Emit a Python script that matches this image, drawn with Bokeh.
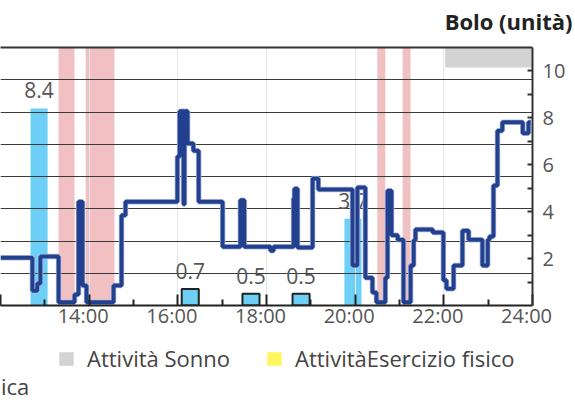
from bokeh.plotting import figure
from bokeh.layouts import column
from bokeh.models import Range1d, LinearAxis, FixedTicker, Grid, Legend, LegendItem
from bokeh.core.properties import value
from bokeh.embed import file_html
from bokeh.resources import INLINE

# ---------------- data ----------------
title_text = "Bolo (unità)"
hour_ticks = [12, 14, 16, 18, 20, 22, 24]
hour_labels = ["12:00", "14:00", "16:00", "18:00", "20:00", "22:00", "24:00"]
hour_minor = [13, 15, 17, 19, 21, 23]
bolus_ticks = [2, 4, 6, 8, 10]
bolus_minor = [1, 3, 5, 7, 9]
grid_levels = [50, 100, 150, 200, 250, 300, 350]

trace_times = [12.00, 12.72, 12.83, 12.90, 13.31, 13.67, 13.76, 13.85, 13.94, 14.55,
               14.73, 14.82, 15.99, 16.04, 16.13, 16.15, 16.22, 16.35, 16.47, 17.01,
               17.41, 17.50, 18.09, 18.16, 18.61, 18.63, 18.70, 19.04, 19.17, 19.94,
               20.05, 20.23, 20.39, 20.48, 20.68, 20.73, 20.82, 20.96, 21.09, 21.25,
               21.32, 21.36, 21.75, 21.99, 22.06, 22.22, 22.42, 22.56, 22.87, 22.99,
               23.03, 23.12, 23.21, 23.32, 23.78, 23.91, 23.96]
trace_values = [74, 23, 34, 76, 5, 17, 161, 31, 5, 31,
                140, 161, 231, 301, 157, 301, 251, 240, 161, 91,
                163, 91, 85, 91, 166, 181, 90, 197, 180, 62,
                183, 43, 20, 5, 43, 178, 109, 102, 5, 62,
                101, 118, 113, 39, 26, 62, 116, 102, 62, 102,
                107, 186, 271, 284, 267, 284, 284]

bolus_times = [12.87, 16.28, 17.65, 18.78, 19.95]
bolus_units = [8.4, 0.7, 0.5, 0.5, 3.7]
bolus_outlined = [False, True, True, True, False]

pink_start = [13.31, 13.92, 20.50, 21.07]
pink_end = [13.67, 14.57, 20.68, 21.25]

sleep_start = [22.03]
sleep_end = [24.0]

legend_row1 = ["Attività Sonno", "AttivitàEsercizio fisico"]
legend_row2 = ["ica"]

FONT = "Open Sans"
LINE_BLUE = "#22408e"
BAR_BLUE = "#6dcff6"
SLEEP_GREY = "#d3d3d3"
EXERCISE_YELLOW = "#fff55c"

# ---------------- title strip ----------------
t = figure(width=573, height=40, x_range=Range1d(0, 1), y_range=Range1d(0, 1),
           x_axis_location=None, y_axis_location=None,
           output_backend="svg", toolbar_location=None,
           min_border=0, outline_line_color=None,
           background_fill_color="white", border_fill_color="white")
t.grid.grid_line_color = None
t.title.text = title_text
t.title.align = "right"
t.title.text_font = FONT
t.title.text_font_size = "22px"
t.title.text_font_style = "bold"
t.title.text_color = "#222222"
t.title.offset = -40
t.title.standoff = 6

# ---------------- main figure ----------------
p = figure(width=573, height=300,
           x_range=Range1d(12, 24), y_range=Range1d(0, 400),
           x_axis_location=None, y_axis_location=None,
           output_backend="svg", toolbar_location=None,
           min_border_left=0, min_border_right=41,
           min_border_top=7, min_border_bottom=35,
           outline_line_color=None,
           background_fill_color="white", border_fill_color="white")
p.extra_y_ranges = {"bolus": Range1d(0, 11)}
p.extra_x_ranges = {"labels": Range1d(12 + 0.135, 24 + 0.135)}

# pink bands
p.quad(left=pink_start, right=pink_end, bottom=0, top=400,
       fill_color="#f1c0c3", line_color=None, level="image")

# sleep activity strip
p.quad(left=sleep_start, right=sleep_end, bottom=10.15, top=11,
       y_range_name="bolus", fill_color=SLEEP_GREY, line_color=None,
       level="image")

# bolus bars
outline_colors = ["#222222" if o else None for o in bolus_outlined]
p.vbar(x=bolus_times, top=bolus_units, bottom=0, width=0.385,
       y_range_name="bolus", fill_color=BAR_BLUE,
       line_color=outline_colors, line_width=2, level="image")
p.text(x=bolus_times, y=bolus_units, text=[f"{u:.1f}" for u in bolus_units],
       y_range_name="bolus", y_offset=-18,
       text_align="center", text_baseline="alphabetic",
       text_font=value(FONT), text_font_size="21px", text_color="#555555")

# grid
grid = Grid(dimension=1, ticker=FixedTicker(ticks=grid_levels),
            grid_line_color="#3a3a3a", grid_line_width=1)
p.add_layout(grid)

# trace
p.step(x=trace_times, y=trace_values, mode="after",
       line_color="#b4c0e4", line_width=5.5)
p.step(x=trace_times, y=trace_values, mode="after",
       line_color=LINE_BLUE, line_width=4)

# axes
top_axis = LinearAxis(ticker=FixedTicker(ticks=[]), axis_line_color="#333333",
                      axis_line_width=2, major_tick_in=0, major_tick_out=0,
                      minor_tick_in=0, minor_tick_out=0,
                      major_label_text_color=None, major_label_standoff=0)
p.add_layout(top_axis, "above")

x_tick_axis = LinearAxis(ticker=FixedTicker(ticks=hour_ticks, minor_ticks=hour_minor),
                         axis_line_color="#222222", axis_line_width=2,
                         major_tick_in=11, major_tick_out=0,
                         minor_tick_in=6, minor_tick_out=0,
                         major_tick_line_color="#222222", major_tick_line_width=2,
                         minor_tick_line_color="#222222", minor_tick_line_width=2,
                         major_label_text_color=None, major_label_text_font_size="1px",
                         major_label_standoff=0)
p.add_layout(x_tick_axis, "below")

x_label_axis = LinearAxis(x_range_name="labels", ticker=FixedTicker(ticks=hour_ticks),
                          major_label_overrides={tk: lb for tk, lb in zip(hour_ticks, hour_labels)},
                          axis_line_color=None, major_tick_line_color=None,
                          minor_tick_line_color=None,
                          major_tick_in=0, major_tick_out=0,
                          major_label_standoff=-4,
                          major_label_text_font=FONT, major_label_text_font_size="20px",
                          major_label_text_color="#555555")
p.add_layout(x_label_axis, "below")

y_axis = LinearAxis(y_range_name="bolus",
                    ticker=FixedTicker(ticks=bolus_ticks, minor_ticks=bolus_minor),
                    axis_line_color="#333333", axis_line_width=2,
                    major_tick_in=5, major_tick_out=0, minor_tick_in=5, minor_tick_out=0,
                    major_tick_line_color="#333333", major_tick_line_width=2,
                    minor_tick_line_color="#333333", minor_tick_line_width=2,
                    major_label_standoff=10,
                    major_label_text_font=FONT, major_label_text_font_size="20px",
                    major_label_text_color="#555555")
p.add_layout(y_axis, "right")

# ---------------- legend strip ----------------
q = figure(width=573, height=60, x_range=p.x_range, y_range=Range1d(0, 60),
           x_axis_location=None, y_axis_location=None,
           output_backend="svg", toolbar_location=None,
           min_border=0, outline_line_color=None,
           background_fill_color="white", border_fill_color="white")
q.grid.grid_line_color = None
# legend glyph sources (kept outside the visible strip)
sleep_r = q.quad(left=sleep_start, right=sleep_end, bottom=-20, top=-10,
                 fill_color=SLEEP_GREY, line_color=None)
ex_r = q.quad(left=sleep_start, right=sleep_end, bottom=-20, top=-10,
              fill_color=EXERCISE_YELLOW, line_color=None)
blank_r = q.quad(left=sleep_start, right=sleep_end, bottom=-20, top=-10,
                 fill_alpha=0, line_alpha=0)

legend1 = Legend(items=[LegendItem(label=legend_row1[0], renderers=[sleep_r]),
                        LegendItem(label=legend_row1[1], renderers=[ex_r])],
                 orientation="horizontal", location=(57, 27),
                 label_text_font=FONT, label_text_font_size="22px",
                 label_text_color="#444444",
                 glyph_width=18, glyph_height=17, label_standoff=12, spacing=35,
                 padding=0, margin=0, border_line_color=None,
                 background_fill_alpha=0)
q.add_layout(legend1)

legend2 = Legend(items=[LegendItem(label=legend_row2[0], renderers=[blank_r])],
                 orientation="horizontal", location=(0, -1),
                 label_text_font=FONT, label_text_font_size="22px",
                 label_text_color="#444444",
                 glyph_width=1, glyph_height=17, label_standoff=0,
                 padding=0, margin=0, border_line_color=None,
                 background_fill_alpha=0)
q.add_layout(legend2)

layout = column(t, p, q, spacing=0)
open("out.html", "w").write(file_html(layout, INLINE))
